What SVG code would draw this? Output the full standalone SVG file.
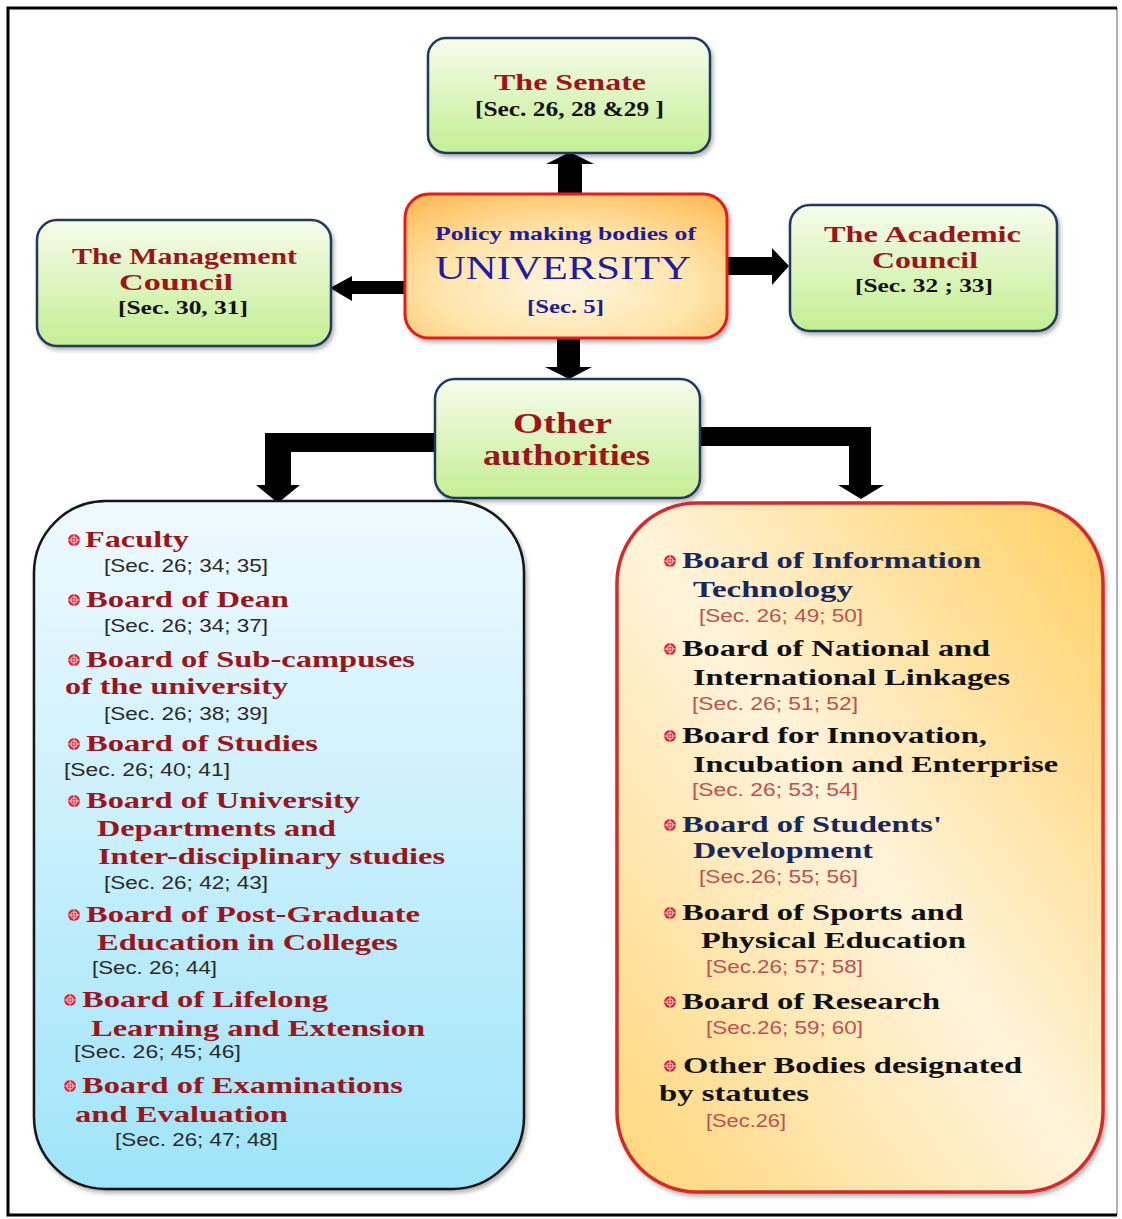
<svg xmlns="http://www.w3.org/2000/svg" xmlns:xlink="http://www.w3.org/1999/xlink" width="1122" height="1219" viewBox="0 0 1122 1219">
<style>
.hd{font-family:"Liberation Serif","Times New Roman",serif;font-weight:bold;}
.sec{font-family:"Liberation Sans",Arial,sans-serif;font-size:18px;}
.red{fill:#9e1419;}
.navy{fill:#17285c;}
.blk{fill:#111111;}
.lsec{fill:#2a2a2a;}
.rsec{fill:#c0504d;}
.li{font-size:24px;}
.green{fill:url(#gGreen);stroke:#1f3a5f;stroke-width:2.5;filter:url(#sh);}
</style>
<defs>
<linearGradient id="gGreen" x1="0" y1="0" x2="0" y2="1">
<stop offset="0" stop-color="#f6fcec"/>
<stop offset="1" stop-color="#c4ee92"/>
</linearGradient>
<radialGradient id="gCenter" cx="0.5" cy="0.65" r="0.75">
<stop offset="0" stop-color="#fff6df"/>
<stop offset="0.55" stop-color="#ffe3a8"/>
<stop offset="1" stop-color="#ffbd5a"/>
</radialGradient>
<linearGradient id="gBlue" x1="0" y1="0" x2="0" y2="1">
<stop offset="0" stop-color="#effaff"/>
<stop offset="1" stop-color="#9fe4f9"/>
</linearGradient>
<linearGradient id="gOrange" x1="1" y1="0" x2="0" y2="1">
<stop offset="0" stop-color="#ffcf62"/>
<stop offset="0.5" stop-color="#fff3da"/>
<stop offset="1" stop-color="#ffd678"/>
</linearGradient>
<filter id="sh" x="-10%" y="-10%" width="130%" height="130%">
<feDropShadow dx="2" dy="3" stdDeviation="2" flood-color="#000" flood-opacity="0.3"/>
</filter>
<g id="bul">
<circle r="6" fill="#d8283a"/>
<circle r="3.2" fill="none" stroke="#ffd0d0" stroke-width="1"/>
<path d="M-6 0H6M0 -6V6" stroke="#ffd0d0" stroke-width="0.8"/>
</g>
</defs>
<rect x="0" y="0" width="1122" height="1219" fill="#ffffff"/>
<path d="M1117 8V1215" stroke="#9a9a9a" stroke-width="1.5" fill="none"/>
<path d="M1117 8H8V1215H1117" stroke="#000" stroke-width="3" fill="none"/>

<g id="connectors" fill="#000">
<polygon points="558,195 558,164 546,164 570,152 594,164 582,164 582,195"/>
<polygon points="407,281 352,281 352,276 330,288 352,301 352,294 407,294"/>
<polygon points="725,257 772,257 772,248 789,266 772,285 772,275 725,275"/>
<polygon points="557,336 557,367 545,367 569,379 592,367 580,367 580,336"/>
<polygon points="440,433 265,433 265,485 256,485 278,503 300,485 291,485 291,452 440,452"/>
<polygon points="697,427 871,427 871,485 884,485 861,499 838,485 849,485 849,446 697,446"/>
</g>

<g id="senate">
<rect class="green" x="428" y="38" width="282" height="115" rx="18"/>
<text class="hd red" x="494" y="90" font-size="24" textLength="152" lengthAdjust="spacingAndGlyphs">The Senate</text>
<text class="hd blk" x="475" y="116" font-size="20" textLength="189" lengthAdjust="spacingAndGlyphs">[Sec. 26, 28 &amp;29 ]</text>
</g>

<g id="university">
<rect x="405" y="194" width="322" height="144" rx="24" fill="url(#gCenter)" stroke="#e41e1e" stroke-width="3" filter="url(#sh)"/>
<text class="hd" fill="#1c1c9c" x="435" y="240" font-size="19" textLength="261" lengthAdjust="spacingAndGlyphs">Policy making bodies of</text>
<text fill="#1c1ca4" font-family="Liberation Serif, serif" x="435" y="279" font-size="34" textLength="256" lengthAdjust="spacingAndGlyphs">UNIVERSITY</text>
<text class="hd" fill="#1c1c9c" x="527" y="313" font-size="19" textLength="77" lengthAdjust="spacingAndGlyphs">[Sec. 5]</text>
</g>

<g id="management">
<rect class="green" x="37" y="220" width="294" height="126" rx="20"/>
<text class="hd red" x="72" y="264" font-size="23" textLength="225" lengthAdjust="spacingAndGlyphs">The Management</text>
<text class="hd red" x="119" y="290" font-size="23" textLength="114" lengthAdjust="spacingAndGlyphs">Council</text>
<text class="hd blk" x="118" y="314" font-size="19" textLength="130" lengthAdjust="spacingAndGlyphs">[Sec. 30, 31]</text>
</g>

<g id="academic">
<rect class="green" x="790" y="205" width="267" height="126" rx="20"/>
<text class="hd red" x="824" y="242" font-size="24" textLength="197" lengthAdjust="spacingAndGlyphs">The Academic</text>
<text class="hd red" x="872" y="268" font-size="24" textLength="106" lengthAdjust="spacingAndGlyphs">Council</text>
<text class="hd blk" x="855" y="292" font-size="19" textLength="138" lengthAdjust="spacingAndGlyphs">[Sec. 32 ; 33]</text>
</g>

<g id="other">
<rect class="green" x="435" y="379" width="265" height="119" rx="20"/>
<text class="hd red" x="513" y="433" font-size="30" textLength="99" lengthAdjust="spacingAndGlyphs">Other</text>
<text class="hd red" x="483" y="465" font-size="30" textLength="167" lengthAdjust="spacingAndGlyphs">authorities</text>
</g>

<g id="left-list">
<rect x="34" y="501" width="490" height="688" rx="72" fill="url(#gBlue)" stroke="#151515" stroke-width="2.5" filter="url(#sh)"/>
<use xlink:href="#bul" x="74" y="540"/>
<text class="hd red li" x="85" y="547" textLength="104" lengthAdjust="spacingAndGlyphs">Faculty</text>
<text class="sec lsec" x="104" y="572" textLength="164" lengthAdjust="spacingAndGlyphs">[Sec. 26; 34; 35]</text>
<use xlink:href="#bul" x="74" y="600"/>
<text class="hd red li" x="86" y="607" textLength="203" lengthAdjust="spacingAndGlyphs">Board of Dean</text>
<text class="sec lsec" x="104" y="632" textLength="164" lengthAdjust="spacingAndGlyphs">[Sec. 26; 34; 37]</text>
<use xlink:href="#bul" x="74" y="660"/>
<text class="hd red li" x="86" y="667" textLength="329" lengthAdjust="spacingAndGlyphs">Board of Sub-campuses</text>
<text class="hd red li" x="65" y="694" textLength="223" lengthAdjust="spacingAndGlyphs">of the university</text>
<text class="sec lsec" x="104" y="720" textLength="164" lengthAdjust="spacingAndGlyphs">[Sec. 26; 38; 39]</text>
<use xlink:href="#bul" x="74" y="744"/>
<text class="hd red li" x="86" y="751" textLength="232" lengthAdjust="spacingAndGlyphs">Board of Studies</text>
<text class="sec lsec" x="64" y="776" textLength="166" lengthAdjust="spacingAndGlyphs">[Sec. 26; 40; 41]</text>
<use xlink:href="#bul" x="74" y="801"/>
<text class="hd red li" x="86" y="808" textLength="274" lengthAdjust="spacingAndGlyphs">Board of University</text>
<text class="hd red li" x="97" y="836" textLength="239" lengthAdjust="spacingAndGlyphs">Departments and</text>
<text class="hd red li" x="98" y="864" textLength="347" lengthAdjust="spacingAndGlyphs">Inter-disciplinary studies</text>
<text class="sec lsec" x="104" y="889" textLength="164" lengthAdjust="spacingAndGlyphs">[Sec. 26; 42; 43]</text>
<use xlink:href="#bul" x="74" y="915"/>
<text class="hd red li" x="86" y="922" textLength="334" lengthAdjust="spacingAndGlyphs">Board of Post-Graduate</text>
<text class="hd red li" x="97" y="950" textLength="301" lengthAdjust="spacingAndGlyphs">Education in Colleges</text>
<text class="sec lsec" x="92" y="974" textLength="125" lengthAdjust="spacingAndGlyphs">[Sec. 26; 44]</text>
<use xlink:href="#bul" x="70" y="1000"/>
<text class="hd red li" x="82" y="1007" textLength="246" lengthAdjust="spacingAndGlyphs">Board of Lifelong</text>
<text class="hd red li" x="91" y="1036" textLength="334" lengthAdjust="spacingAndGlyphs">Learning and Extension</text>
<text class="sec lsec" x="74" y="1058" textLength="167" lengthAdjust="spacingAndGlyphs">[Sec. 26; 45; 46]</text>
<use xlink:href="#bul" x="70" y="1086"/>
<text class="hd red li" x="82" y="1093" textLength="321" lengthAdjust="spacingAndGlyphs">Board of Examinations</text>
<text class="hd red li" x="75" y="1122" textLength="213" lengthAdjust="spacingAndGlyphs">and Evaluation</text>
<text class="sec lsec" x="115" y="1146" textLength="163" lengthAdjust="spacingAndGlyphs">[Sec. 26; 47; 48]</text>
</g>

<g id="right-list">
<rect x="617" y="503" width="486" height="689" rx="80" fill="url(#gOrange)" stroke="#d62a2a" stroke-width="3.5" filter="url(#sh)"/>
<use xlink:href="#bul" x="670" y="561"/>
<text class="hd navy li" x="682" y="568" textLength="299" lengthAdjust="spacingAndGlyphs">Board of Information</text>
<text class="hd navy li" x="693" y="597" textLength="160" lengthAdjust="spacingAndGlyphs">Technology</text>
<text class="sec rsec" x="699" y="622" textLength="164" lengthAdjust="spacingAndGlyphs">[Sec. 26; 49; 50]</text>
<use xlink:href="#bul" x="670" y="649"/>
<text class="hd blk li" x="682" y="656" textLength="308" lengthAdjust="spacingAndGlyphs">Board of National and</text>
<text class="hd blk li" x="693" y="685" textLength="317" lengthAdjust="spacingAndGlyphs">International Linkages</text>
<text class="sec rsec" x="692" y="710" textLength="166" lengthAdjust="spacingAndGlyphs">[Sec. 26; 51; 52]</text>
<use xlink:href="#bul" x="670" y="736"/>
<text class="hd blk li" x="682" y="743" textLength="305" lengthAdjust="spacingAndGlyphs">Board for Innovation,</text>
<text class="hd blk li" x="693" y="772" textLength="365" lengthAdjust="spacingAndGlyphs">Incubation and Enterprise</text>
<text class="sec rsec" x="692" y="796" textLength="166" lengthAdjust="spacingAndGlyphs">[Sec. 26; 53; 54]</text>
<use xlink:href="#bul" x="670" y="825"/>
<text class="hd navy li" x="682" y="832" textLength="260" lengthAdjust="spacingAndGlyphs">Board of Students'</text>
<text class="hd navy li" x="693" y="858" textLength="180" lengthAdjust="spacingAndGlyphs">Development</text>
<text class="sec rsec" x="699" y="883" textLength="159" lengthAdjust="spacingAndGlyphs">[Sec.26; 55; 56]</text>
<use xlink:href="#bul" x="670" y="913"/>
<text class="hd blk li" x="682" y="920" textLength="281" lengthAdjust="spacingAndGlyphs">Board of Sports and</text>
<text class="hd blk li" x="701" y="948" textLength="265" lengthAdjust="spacingAndGlyphs">Physical Education</text>
<text class="sec rsec" x="706" y="973" textLength="157" lengthAdjust="spacingAndGlyphs">[Sec.26; 57; 58]</text>
<use xlink:href="#bul" x="670" y="1002"/>
<text class="hd blk li" x="682" y="1009" textLength="258" lengthAdjust="spacingAndGlyphs">Board of Research</text>
<text class="sec rsec" x="706" y="1034" textLength="157" lengthAdjust="spacingAndGlyphs">[Sec.26; 59; 60]</text>
<use xlink:href="#bul" x="670" y="1066"/>
<text class="hd blk li" x="683" y="1073" textLength="339" lengthAdjust="spacingAndGlyphs">Other Bodies designated</text>
<text class="hd blk li" x="659" y="1101" textLength="150" lengthAdjust="spacingAndGlyphs">by statutes</text>
<text class="sec rsec" x="706" y="1127" textLength="80" lengthAdjust="spacingAndGlyphs">[Sec.26]</text>
</g>
</svg>
